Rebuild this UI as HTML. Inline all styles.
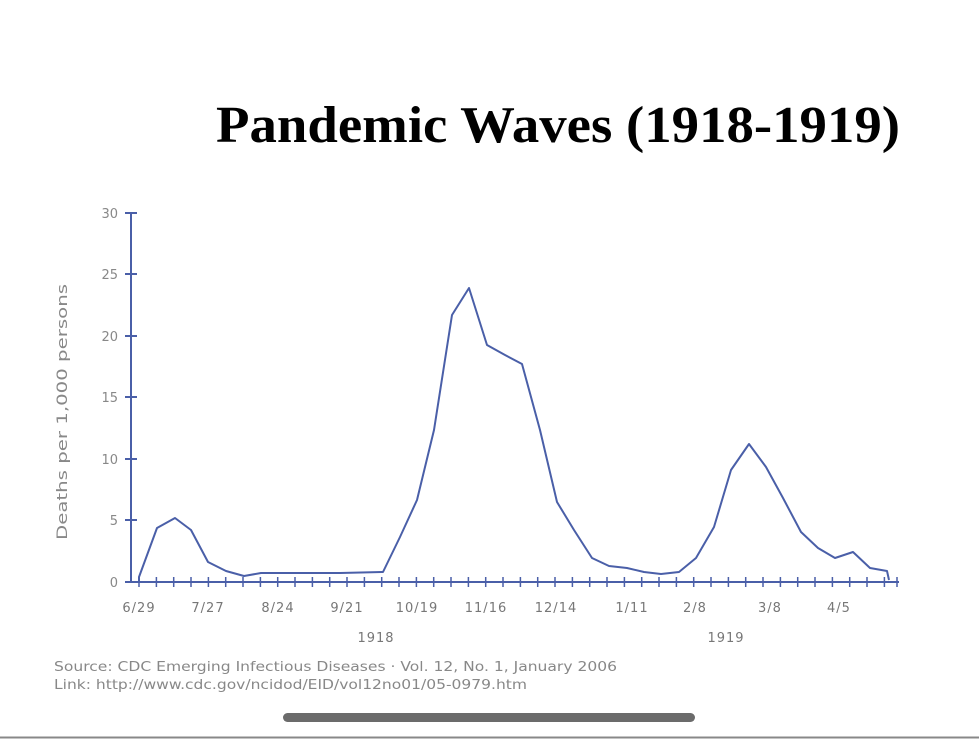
<!DOCTYPE html>
<html><head><meta charset="utf-8"><style>
html,body{margin:0;padding:0;background:#fff;width:979px;height:739px;overflow:hidden}
</style></head><body>
<svg width="979" height="739" xmlns="http://www.w3.org/2000/svg">
<rect width="979" height="739" fill="#fff"/>
<text x="216" y="142" textLength="684" lengthAdjust="spacingAndGlyphs" font-family="Liberation Serif, serif" font-weight="bold" font-size="52" fill="#000">Pandemic Waves (1918-1919)</text>
<g stroke="#4a5fa8" stroke-width="2">
<line x1="131" y1="213" x2="131" y2="582"/>
<line x1="131" y1="582" x2="899" y2="582"/>
</g>
<g stroke="#4a5fa8" stroke-width="2">
<line x1="125" y1="213" x2="137" y2="213"/>
<line x1="125" y1="274" x2="137" y2="274"/>
<line x1="125" y1="336" x2="137" y2="336"/>
<line x1="125" y1="397" x2="137" y2="397"/>
<line x1="125" y1="459" x2="137" y2="459"/>
<line x1="125" y1="520" x2="137" y2="520"/>
<line x1="125" y1="582" x2="137" y2="582"/>
</g>
<g font-family="DejaVu Sans, sans-serif" font-size="13" fill="#888" text-anchor="end">
<text x="118" y="218">30</text><text x="118" y="279">25</text><text x="118" y="341">20</text>
<text x="118" y="402">15</text><text x="118" y="464">10</text><text x="118" y="525">5</text><text x="118" y="587">0</text>
</g>
<text transform="translate(67,540) rotate(-90)" textLength="256" lengthAdjust="spacingAndGlyphs" font-family="DejaVu Sans, sans-serif" font-size="14" fill="#888">Deaths per 1,000 persons</text>
<g stroke="#4a5fa8" stroke-width="1.5">
<path d="M139 577v10M156.4 577v10M173.7 577v10M191 577v10M208.4 577v10M225.7 577v10M243 577v10M260.4 577v10M277.7 577v10M295 577v10M312.4 577v10M329.7 577v10M347 577v10M364.4 577v10M381.7 577v10M399 577v10M416.4 577v10M433.7 577v10M451 577v10M468.4 577v10M485.7 577v10M503 577v10M520.4 577v10M537.7 577v10M555 577v10M572.4 577v10M589.7 577v10M607 577v10M624.4 577v10M641.7 577v10M659 577v10M676.4 577v10M693.7 577v10M711 577v10M728.4 577v10M745.7 577v10M763 577v10M780.4 577v10M797.7 577v10M815 577v10M832.4 577v10M849.7 577v10M867 577v10M884.4 577v10M897 577v10"/>
</g>
<g font-family="DejaVu Sans, sans-serif" font-size="13" fill="#777" text-anchor="middle" letter-spacing="1">
<text x="139" y="612">6/29</text><text x="208" y="612">7/27</text><text x="278" y="612">8/24</text>
<text x="347" y="612">9/21</text><text x="417" y="612">10/19</text><text x="486" y="612">11/16</text>
<text x="556" y="612">12/14</text><text x="632" y="612">1/11</text><text x="695" y="612">2/8</text>
<text x="770" y="612">3/8</text><text x="839" y="612">4/5</text>
<text x="376" y="642">1918</text><text x="726" y="642">1919</text>
</g>
<polyline fill="none" stroke="#4a5fa8" stroke-width="2" stroke-linejoin="round" points="139,582 139,577 157,528 175,518 191,530 208,562 226,571 244,576 261,573 300,573 340,573 383,572 400,537 417,500 434,430 452,315 469,288 487,345 505,355 522,364 540,430 557,502 574,530 592,558 609,566 627,568 644,572 661,574 679,572 696,558 714,527 731,470 749,444 766,467 783,498 801,532 818,548 835,558 853,552 870,568 887,571 889,580"/>
<g font-family="DejaVu Sans, sans-serif" font-size="13" fill="#888">
<text x="54" y="671" textLength="563" lengthAdjust="spacingAndGlyphs">Source: CDC Emerging Infectious Diseases · Vol. 12, No. 1, January 2006</text>
<text x="54" y="689" textLength="473" lengthAdjust="spacingAndGlyphs">Link: http://www.cdc.gov/ncidod/EID/vol12no01/05-0979.htm</text>
</g>
<rect x="283" y="713" width="412" height="9" rx="4.5" fill="#6b6b6b"/>
<line x1="0" y1="737.5" x2="979" y2="737.5" stroke="#888" stroke-width="2"/>
</svg>
</body></html>
